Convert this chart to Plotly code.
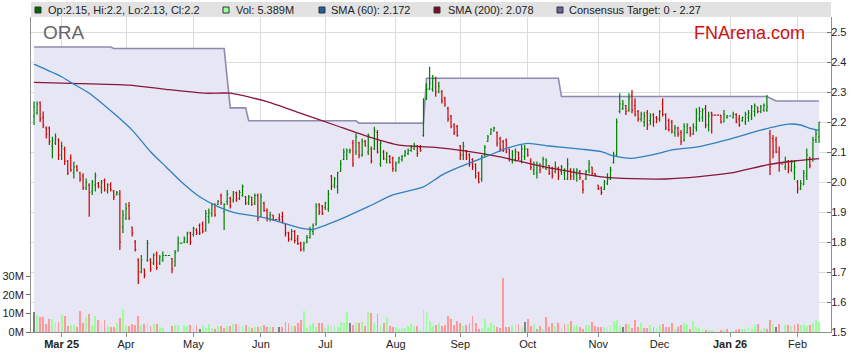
import plotly.graph_objects as go
import pandas as pd

# ---------------- data ----------------
# weekday slots 18 Feb 2025 .. 11 Feb 2026 (ASX holidays drawn flat, no volume)
dates = pd.bdate_range("2025-02-18", "2026-02-11")

open_ = [
    2.22, 2.23, 2.265, 2.215, 2.18, 2.18, 2.12, 2.13, 2.14, 2.09,
    2.11, 2.07, 2.08, 2.03, 2.05, 2.03, 2.02, 1.98, 1.99, 1.97,
    1.99, 1.995, 1.98, 2.005, 1.97, 1.99, 1.97, 1.958, 1.96, 1.85,
    1.88, 1.92, 1.85, 1.80, 1.74, 1.70, 1.71, 1.74, 1.74, 1.73,
    1.76, 1.73, 1.74, 1.755, 1.755, 1.745, 1.72, 1.77, 1.796, 1.80,
    1.80, 1.83, 1.825, 1.84, 1.855, 1.86, 1.84, 1.885, 1.895, 1.925,
    1.925, 1.955, 1.90, 1.935, 1.945, 1.94, 1.965, 1.945, 1.955, 1.95,
    1.93, 1.95, 1.93, 1.955, 1.885, 1.93, 1.905, 1.875, 1.89, 1.875,
    1.88, 1.885, 1.86, 1.83, 1.81, 1.835, 1.81, 1.795, 1.78, 1.80,
    1.815, 1.835, 1.86, 1.925, 1.92, 1.915, 1.91, 2.02, 1.99, 1.985,
    2.035, 2.075, 2.09, 2.10, 2.13, 2.10, 2.13, 2.09, 2.135, 2.10,
    2.11, 2.11, 2.165, 2.06, 2.10, 2.075, 2.085, 2.08, 2.04, 2.065,
    2.075, 2.088, 2.095, 2.105, 2.11, 2.12, 2.115, 2.155, 2.28, 2.31,
    2.31, 2.345, 2.30, 2.30, 2.28, 2.245, 2.22, 2.19, 2.185, 2.12,
    2.09, 2.105, 2.09, 2.075, 2.06, 2.03, 2.01, 2.09, 2.135, 2.16,
    2.17, 2.165, 2.145, 2.135, 2.14, 2.11, 2.07, 2.075, 2.10, 2.07,
    2.085, 2.11, 2.07, 2.04, 2.03, 2.06, 2.05, 2.045, 2.055, 2.045,
    2.035, 2.045, 2.035, 2.03, 2.01, 2.04, 2.02, 2.025, 2.035, 2.0,
    2.01, 2.04, 2.05, 2.028, 1.99, 1.98, 1.975, 1.995, 2.01, 2.065,
    2.09, 2.235, 2.245, 2.255, 2.24, 2.29, 2.255, 2.235, 2.21, 2.20,
    2.23, 2.205, 2.225, 2.215, 2.21, 2.26, 2.225, 2.205, 2.2, 2.165,
    2.18, 2.165, 2.14, 2.165, 2.18, 2.16, 2.18, 2.21, 2.215, 2.245,
    2.19, 2.23, 2.223, 2.223, 2.223, 2.2, 2.215, 2.22, 2.215, 2.225,
    2.21, 2.205, 2.2, 2.215, 2.22, 2.235, 2.25, 2.235, 2.24, 2.24,
    2.16, 2.145, 2.14, 2.10, 2.06, 2.05, 2.07, 2.04, 2.03, 2.0,
    1.98, 1.99, 2.02, 2.08, 2.07, 2.14, 2.15,
]
high = [
    2.268, 2.268, 2.268, 2.235, 2.185, 2.185, 2.151, 2.162, 2.146, 2.134,
    2.118, 2.073, 2.092, 2.068, 2.057, 2.034, 2.029, 2.012, 1.996, 2.007,
    2.032, 2.0, 2.007, 2.012, 1.996, 1.999, 1.973, 1.97, 1.973, 1.907,
    1.93, 1.933, 1.851, 1.807, 1.746, 1.757, 1.712, 1.807, 1.746, 1.762,
    1.768, 1.757, 1.768, 1.755, 1.755, 1.746, 1.773, 1.818, 1.796, 1.818,
    1.834, 1.834, 1.851, 1.846, 1.862, 1.868, 1.907, 1.912, 1.929, 1.929,
    1.94, 1.962, 1.929, 1.973, 1.951, 1.97, 1.968, 1.973, 1.992, 1.953,
    1.957, 1.951, 1.962, 1.962, 1.962, 1.934, 1.912, 1.901, 1.89, 1.875,
    1.895, 1.901, 1.862, 1.834, 1.843, 1.84, 1.823, 1.801, 1.801, 1.823,
    1.851, 1.862, 1.929, 1.929, 1.923, 1.934, 1.973, 2.023, 2.017, 2.034,
    2.073, 2.112, 2.112, 2.112, 2.14, 2.162, 2.134, 2.145, 2.14, 2.162,
    2.118, 2.184, 2.173, 2.14, 2.107, 2.101, 2.09, 2.084, 2.068, 2.084,
    2.09, 2.107, 2.112, 2.123, 2.131, 2.123, 2.123, 2.279, 2.329, 2.384,
    2.357, 2.351, 2.334, 2.307, 2.284, 2.251, 2.223, 2.196, 2.19, 2.123,
    2.134, 2.107, 2.096, 2.079, 2.062, 2.034, 2.09, 2.123, 2.157, 2.179,
    2.184, 2.168, 2.151, 2.14, 2.145, 2.112, 2.107, 2.112, 2.101, 2.123,
    2.123, 2.112, 2.079, 2.068, 2.068, 2.062, 2.084, 2.079, 2.057, 2.051,
    2.068, 2.051, 2.057, 2.046, 2.079, 2.046, 2.046, 2.046, 2.04, 2.007,
    2.04, 2.073, 2.051, 2.029, 1.99, 1.985, 2.007, 2.029, 2.051, 2.101,
    2.212, 2.296, 2.273, 2.257, 2.296, 2.307, 2.279, 2.24, 2.234, 2.234,
    2.24, 2.229, 2.229, 2.22, 2.24, 2.279, 2.229, 2.212, 2.207, 2.19,
    2.184, 2.173, 2.196, 2.196, 2.184, 2.196, 2.246, 2.251, 2.246, 2.257,
    2.234, 2.234, 2.223, 2.223, 2.223, 2.24, 2.223, 2.22, 2.234, 2.229,
    2.223, 2.218, 2.234, 2.24, 2.257, 2.262, 2.251, 2.257, 2.262, 2.29,
    2.173, 2.157, 2.151, 2.118, 2.06, 2.084, 2.073, 2.073, 2.073, 2.007,
    2.007, 2.04, 2.112, 2.084, 2.151, 2.173, 2.2,
]
low = [
    2.19, 2.225, 2.20, 2.18, 2.145, 2.123, 2.079, 2.123, 2.073, 2.073,
    2.057, 2.023, 2.034, 2.012, 2.034, 2.001, 1.973, 1.973, 1.884, 1.957,
    1.968, 1.979, 1.962, 1.968, 1.962, 1.968, 1.94, 1.955, 1.773, 1.83,
    1.873, 1.873, 1.818, 1.768, 1.66, 1.696, 1.679, 1.734, 1.701, 1.723,
    1.707, 1.723, 1.734, 1.755, 1.755, 1.696, 1.718, 1.768, 1.796, 1.796,
    1.796, 1.79, 1.818, 1.823, 1.823, 1.829, 1.834, 1.862, 1.884, 1.884,
    1.923, 1.923, 1.84, 1.923, 1.912, 1.932, 1.934, 1.94, 1.951, 1.923,
    1.923, 1.921, 1.923, 1.87, 1.884, 1.901, 1.868, 1.868, 1.87, 1.875,
    1.868, 1.862, 1.818, 1.801, 1.805, 1.796, 1.79, 1.768, 1.768, 1.796,
    1.812, 1.823, 1.855, 1.89, 1.89, 1.907, 1.901, 1.973, 1.979, 1.962,
    2.034, 2.073, 2.073, 2.095, 2.051, 2.09, 2.079, 2.084, 2.118, 2.09,
    2.062, 2.107, 2.095, 2.051, 2.073, 2.062, 2.062, 2.034, 2.034, 2.062,
    2.068, 2.084, 2.09, 2.101, 2.107, 2.084, 2.101, 2.151, 2.273, 2.307,
    2.301, 2.284, 2.296, 2.262, 2.251, 2.201, 2.179, 2.157, 2.151, 2.073,
    2.073, 2.073, 2.051, 2.04, 2.012, 1.996, 2.001, 2.084, 2.134, 2.157,
    2.168, 2.118, 2.101, 2.10, 2.096, 2.068, 2.062, 2.068, 2.073, 2.062,
    2.073, 2.084, 2.04, 2.023, 2.012, 2.029, 2.045, 2.04, 2.023, 2.012,
    2.029, 2.007, 2.023, 2.007, 2.007, 2.007, 2.007, 2.001, 2.007, 1.962,
    2.007, 2.029, 2.023, 2.018, 1.973, 1.957, 1.973, 1.99, 2.007, 2.062,
    2.084, 2.229, 2.24, 2.223, 2.234, 2.229, 2.218, 2.201, 2.201, 2.184,
    2.173, 2.19, 2.184, 2.196, 2.201, 2.218, 2.173, 2.168, 2.162, 2.151,
    2.151, 2.123, 2.135, 2.162, 2.151, 2.157, 2.168, 2.201, 2.201, 2.179,
    2.168, 2.162, 2.223, 2.223, 2.195, 2.198, 2.212, 2.22, 2.212, 2.196,
    2.184, 2.201, 2.19, 2.201, 2.207, 2.218, 2.229, 2.229, 2.234, 2.234,
    2.023, 2.079, 2.096, 2.034, 2.06, 2.04, 2.029, 2.034, 2.007, 1.962,
    1.973, 1.99, 2.007, 2.046, 2.068, 2.13, 2.13,
]
close = [
    2.25, 2.26, 2.21, 2.19, 2.16, 2.135, 2.14, 2.15, 2.09, 2.12,
    2.07, 2.03, 2.04, 2.05, 2.04, 2.01, 1.98, 2.00, 1.965, 2.00,
    2.02, 1.985, 2.00, 1.975, 1.99, 1.975, 1.95, 1.965, 1.80, 1.89,
    1.91, 1.88, 1.83, 1.775, 1.70, 1.74, 1.69, 1.795, 1.71, 1.755,
    1.715, 1.75, 1.755, 1.755, 1.755, 1.71, 1.765, 1.796, 1.796, 1.81,
    1.83, 1.80, 1.845, 1.83, 1.83, 1.835, 1.895, 1.90, 1.925, 1.89,
    1.935, 1.93, 1.925, 1.96, 1.92, 1.96, 1.94, 1.965, 1.985, 1.93,
    1.95, 1.925, 1.955, 1.88, 1.95, 1.905, 1.88, 1.89, 1.875, 1.875,
    1.875, 1.87, 1.83, 1.81, 1.835, 1.805, 1.795, 1.775, 1.795, 1.815,
    1.84, 1.855, 1.92, 1.90, 1.895, 1.93, 1.96, 1.985, 2.01, 2.03,
    2.06, 2.10, 2.105, 2.105, 2.06, 2.15, 2.09, 2.135, 2.12, 2.155,
    2.07, 2.17, 2.10, 2.13, 2.08, 2.095, 2.065, 2.045, 2.06, 2.08,
    2.085, 2.10, 2.105, 2.115, 2.12, 2.095, 2.105, 2.27, 2.31, 2.33,
    2.345, 2.30, 2.32, 2.27, 2.26, 2.21, 2.185, 2.165, 2.155, 2.09,
    2.12, 2.08, 2.06, 2.05, 2.02, 2.0, 2.085, 2.115, 2.15, 2.175,
    2.18, 2.13, 2.11, 2.105, 2.10, 2.075, 2.09, 2.10, 2.08, 2.11,
    2.11, 2.09, 2.05, 2.06, 2.055, 2.04, 2.075, 2.07, 2.03, 2.02,
    2.05, 2.02, 2.05, 2.04, 2.06, 2.02, 2.035, 2.04, 2.015, 1.975,
    2.035, 2.06, 2.03, 2.02, 1.977, 1.965, 2.0, 2.01, 2.04, 2.09,
    2.2, 2.26, 2.26, 2.235, 2.28, 2.24, 2.225, 2.21, 2.225, 2.22,
    2.19, 2.22, 2.20, 2.21, 2.235, 2.225, 2.18, 2.175, 2.17, 2.18,
    2.16, 2.135, 2.185, 2.19, 2.16, 2.185, 2.23, 2.235, 2.24, 2.19,
    2.22, 2.223, 2.223, 2.223, 2.20, 2.225, 2.22, 2.22, 2.225, 2.20,
    2.19, 2.215, 2.225, 2.23, 2.25, 2.255, 2.235, 2.25, 2.255, 2.25,
    2.05, 2.10, 2.10, 2.06, 2.06, 2.07, 2.05, 2.065, 2.05, 1.975,
    1.995, 2.03, 2.09, 2.055, 2.14, 2.16, 2.2,
]
volume_m = [
    11, 9.2, 7.9, 7.9, 4.3, 6.8, 6.8, 5.6, 5.6, 9.2,
    8.6, 3.2, 3.8, 3.8, 2.9, 11.4, 5.0, 7.9, 9.7, 3.8,
    8.6, 6.5, 5.0, 6.5, 3.2, 2.9, 2.9, 5.0, 7.4, 12.4,
    3.2, 3.2, 4.3, 3.8, 8.6, 3.8, 4.3, 4.7, 3.2, 4.3,
    4.3, 2.5, 2.2, 0, 0, 3.2, 3.8, 3.8, 0, 3.8,
    3.2, 3.8, 2.5, 3.8, 1.6, 3.8, 2.2, 4.3, 2.2, 1.4,
    3.2, 3.2, 2.2, 3.2, 3.2, 4.3, 4.1, 3.8, 3.2, 3.8,
    2.9, 2.2, 2.5, 2.5, 3.2, 3.8, 2.7, 2.7, 2.7, 0,
    2.9, 2.9, 5.6, 4.7, 3.2, 3.2, 5.0, 6.5, 11.4, 2.0,
    3.8, 5.0, 2.9, 5.0, 5.0, 2.0, 3.8, 3.2, 3.2, 2.7,
    5.6, 4.7, 11, 4.7, 3.8, 5.0, 4.7, 5.6, 3.2, 10.8,
    10, 5.0, 9.7, 3.8, 5.0, 8.3, 3.2, 2.7, 2.7, 1.4,
    1.4, 2.0, 3.2, 4.3, 3.2, 3.2, 1.1, 11.9, 11, 6.0,
    3.4, 3.8, 5.0, 3.2, 3.8, 8.6, 7.0, 3.8, 6.0, 5.0,
    3.2, 3.8, 5.0, 8.6, 5.0, 1.6, 2.2, 7.0, 2.7, 5.0,
    3.8, 2.7, 2.3, 29, 2.7, 2.7, 3.8, 4.3, 4.3, 2.7,
    5.4, 7.0, 3.2, 4.3, 1.6, 3.2, 1.6, 8.0, 2.9, 5.0,
    3.2, 5.0, 2.2, 4.3, 4.3, 6.0, 3.2, 3.8, 2.7, 1.6,
    3.8, 3.8, 5.4, 3.2, 2.9, 2.9, 2.7, 2.7, 3.8, 6.0,
    6.5, 3.2, 2.9, 4.3, 4.3, 2.2, 6.5, 2.7, 4.7, 2.2,
    2.2, 3.8, 2.7, 2.2, 3.8, 4.3, 2.7, 2.7, 4.7, 1.6,
    2.7, 3.8, 4.7, 4.3, 1.6, 6.0, 2.7, 2.2, 1.6, 0.9,
    0.9, 1.0, 0, 0, 1.0, 1.0, 1.5, 0, 0.5, 1.0,
    1.6, 1.6, 1.8, 2.7, 1.4, 3.8, 4.3, 1.1, 2.2, 1.6,
    6.5, 4.3, 2.9, 4.3, 0, 3.8, 3.8, 3.2, 3.8, 4.3,
    3.8, 3.8, 3.2, 3.8, 5.0, 6.5, 5.389,
]

# moving averages at sample days
sma60_day = [0, 9, 12, 18, 26, 32, 38, 43, 48, 54, 60, 65, 76, 87, 91, 98, 109, 117,
             127, 133, 139, 148, 154, 161, 168, 179, 185, 189, 195, 204, 208, 217,
             228, 237, 246, 250, 253, 256]
sma60_val = [2.393, 2.351, 2.332, 2.296, 2.229, 2.173, 2.101, 2.051, 2.001, 1.951,
             1.918, 1.899, 1.879, 1.846, 1.842, 1.868, 1.918, 1.957, 1.984, 2.023,
             2.051, 2.087, 2.112, 2.129, 2.12, 2.109, 2.101, 2.087, 2.079, 2.096,
             2.107, 2.118, 2.146, 2.173, 2.193, 2.19, 2.179, 2.172]
sma200_day = [0, 12, 31, 43, 56, 64, 76, 87, 98, 109, 119, 130, 141, 152, 163, 174,
              185, 195, 206, 217, 228, 239, 248, 256]
sma200_val = [2.332, 2.329, 2.323, 2.309, 2.296, 2.296, 2.268, 2.229, 2.19, 2.151,
              2.123, 2.116, 2.103, 2.084, 2.058, 2.036, 2.017, 2.011, 2.01, 2.018,
              2.031, 2.057, 2.07, 2.078]

# consensus target (upper bound) at the days where it changes
target_day = [0, 25, 26, 62, 64, 69, 70, 105, 106, 127, 128, 171, 172, 239, 242, 256]
target_val = [2.45, 2.45, 2.445, 2.445, 2.247, 2.247, 2.204, 2.204, 2.196, 2.196,
              2.346, 2.346, 2.285, 2.285, 2.27, 2.27]

vol_ticks = [0, 10, 20, 30]
ticker = "ORA"

n = len(close)
assert len(open_) == n and len(high) == n and len(low) == n and len(volume_m) == n
assert len(dates) == n
idx = list(range(n))

# ---------------- styling ----------------
FONT = "Liberation Sans, Arial, sans-serif"
W, H = 859, 363
PL, PR, PT, PB = 31, 831, 17, 332  # plot area in pixels
PRICE_RANGE = [1.5, 2.55]


def pxx(px):
    return (px - PL) / (PR - PL)


def pxy(py):
    return (PB - py) / (PB - PT)


# volume colours (vs previous close)
vol_colors = []
for i in range(n):
    if i == 0 or abs(close[i] - close[i - 1]) < 1e-9:
        vol_colors.append("#808080")
    elif close[i] > close[i - 1]:
        vol_colors.append("#99ff99")
    else:
        vol_colors.append("#ff9999")

# month ticks
tickvals, ticktext = [], []
first = True
for i in range(1, n):
    if dates[i].month != dates[i - 1].month:
        d = dates[i]
        if first or d.month == 1:
            ticktext.append("<b>" + d.strftime("%b %y") + "</b>")
            first = False
        else:
            ticktext.append(d.strftime("%b"))
        tickvals.append(i)

fig = go.Figure()

# consensus target area (bottom layer, main axis)
fig.add_trace(go.Scatter(
    x=target_day, y=target_val, mode="lines",
    line=dict(color="#8c8cb0", width=1.6),
    fill="tozeroy", fillcolor="#e6e6f5",
    hoverinfo="skip", showlegend=False,
))

# volume
fig.add_trace(go.Bar(
    x=idx, y=volume_m, marker=dict(color=vol_colors, line=dict(width=0)),
    width=0.62, yaxis="y2", hoverinfo="skip", showlegend=False,
))

# price bars (overlay axis so they sit above the fill)
fig.add_trace(go.Ohlc(
    x=idx, open=open_, high=high, low=low, close=close,
    increasing=dict(line=dict(color="#008000", width=1.2)),
    decreasing=dict(line=dict(color="#cc0000", width=1.2)),
    tickwidth=0.35, yaxis="y3", hoverinfo="skip", showlegend=False,
))

# moving averages
fig.add_trace(go.Scatter(
    x=sma200_day, y=sma200_val, mode="lines", yaxis="y3",
    line=dict(color="#8b1538", width=1.3, shape="spline", smoothing=0.6),
    hoverinfo="skip", showlegend=False,
))
fig.add_trace(go.Scatter(
    x=sma60_day, y=sma60_val, mode="lines", yaxis="y3",
    line=dict(color="#2f80c0", width=1.3, shape="spline", smoothing=0.6),
    hoverinfo="skip", showlegend=False,
))

axis_font = dict(family=FONT, size=11, color="#222222")

fig.update_layout(
    width=W, height=H,
    margin=dict(l=PL, r=W - PR, t=PT, b=H - PB, pad=0, autoexpand=False),
    paper_bgcolor="white", plot_bgcolor="white",
    font=dict(family=FONT, size=11, color="#222222"),
    showlegend=False,
    bargap=0,
    xaxis=dict(
        range=[-0.98, 259.9], tickvals=tickvals, ticktext=ticktext,
        showgrid=True, gridcolor="#dcdcdc", gridwidth=1, zeroline=False,
        showline=True, linecolor="#909090", linewidth=1,
        ticks="outside", ticklen=4, tickcolor="#909090",
        tickfont=axis_font, rangeslider=dict(visible=False),
        fixedrange=True, automargin=False, ticklabelstandoff=-2,
    ),
    yaxis=dict(
        side="right", range=PRICE_RANGE, dtick=0.1, tick0=1.5, tickformat=".1f",
        showgrid=True, gridcolor="#dcdcdc", gridwidth=1, zeroline=False,
        showline=True, linecolor="#909090", linewidth=1,
        ticks="inside", ticklen=4, tickcolor="#707070",
        tickfont=axis_font, fixedrange=True, ticklabelstandoff=-3,
        automargin=False,
    ),
    yaxis2=dict(
        overlaying="y", side="left", anchor="x", range=[0, 170],
        tickvals=vol_ticks, ticktext=[f"{v}M" for v in vol_ticks],
        showgrid=False, zeroline=False,
        showline=True, linecolor="#909090", linewidth=1,
        ticks="outside", ticklen=4, tickcolor="#707070",
        tickfont=axis_font, fixedrange=True, automargin=False,
    ),
    yaxis3=dict(
        overlaying="y", side="right", anchor="x", range=PRICE_RANGE,
        visible=False, showgrid=False, zeroline=False, fixedrange=True,
        automargin=False,
    ),
)

shapes = []
annotations = []

# legend strip
shapes.append(dict(type="rect", xref="paper", yref="paper",
                   x0=pxx(31), x1=pxx(831), y0=pxy(17), y1=pxy(2),
                   fillcolor="#e2e2e2", line=dict(width=0), layer="above"))

legend_items = [
    (35, 47, f"Op:{open_[-1]:g}, Hi:{high[-1]:g}, Lo:{low[-1]:g}, Cl:{close[-1]:g}", "#006600"),
    (223, 235, f"Vol: {volume_m[-1]:g}M", "#99ff99"),
    (319, 330, f"SMA (60): {sma60_val[-1]:.3f}", "#1f5f9f"),
    (434, 447, f"SMA (200): {sma200_val[-1]:.3f}", "#7a0f2a"),
    (557, 568, f"Consensus Target: 0 - {target_val[-1]:g}", "#666699"),
]
for sx, tx, label, col in legend_items:
    shapes.append(dict(type="rect", xref="paper", yref="paper",
                       x0=pxx(sx), x1=pxx(sx + 6), y0=pxy(13), y1=pxy(7),
                       fillcolor=col, line=dict(color="#333333", width=1), layer="above"))
    annotations.append(dict(xref="paper", yref="paper", x=pxx(tx - 1), y=pxy(10),
                            xanchor="left", yanchor="middle", showarrow=False,
                            text=label, font=dict(family=FONT, size=11, color="#222222")))

annotations.append(dict(xref="paper", yref="paper", x=pxx(41), y=pxy(32),
                        xanchor="left", yanchor="middle", showarrow=False,
                        text=ticker, font=dict(family=FONT, size=19, color="#666666")))
annotations.append(dict(xref="paper", yref="paper", x=pxx(692), y=pxy(33),
                        xanchor="left", yanchor="middle", showarrow=False,
                        text="FNArena.com", font=dict(family=FONT, size=18, color="#cc1111")))

fig.update_layout(shapes=shapes, annotations=annotations)

# remove the default page margin so the figure sits at the window origin
fig.write_html(
    "out.html",
    config={"displayModeBar": False, "staticPlot": True},
    post_script="document.body.style.margin='0px';document.body.style.overflow='hidden';",
)
